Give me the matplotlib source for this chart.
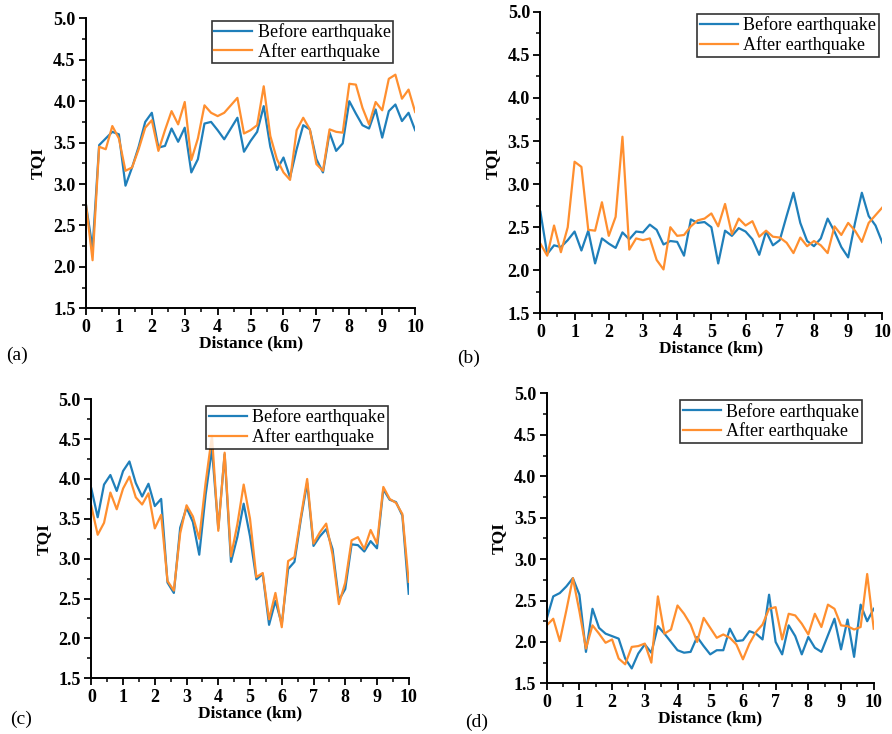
import numpy as np
import matplotlib.pyplot as plt
from matplotlib.ticker import MultipleLocator

# ----------------------------
# data: TQI every 0.2 km along a 10 km section
# ----------------------------
distance = np.round(np.arange(0, 10.01, 0.2), 1)

before_a = [2.75, 2.22, 3.47, 3.55, 3.63, 3.60, 2.98, 3.20, 3.45, 3.75, 3.86,
            3.44, 3.46, 3.67, 3.51, 3.68, 3.14, 3.30, 3.73, 3.75, 3.65,
            3.54, 3.67, 3.80, 3.39, 3.52, 3.63, 3.94, 3.45, 3.17, 3.32,
            3.08, 3.42, 3.71, 3.66, 3.30, 3.14, 3.62, 3.40, 3.49, 4.00,
            3.85, 3.71, 3.67, 3.90, 3.56, 3.88, 3.96, 3.76, 3.86, 3.65]
after_a = [2.75, 2.08, 3.45, 3.42, 3.70, 3.55, 3.16, 3.20, 3.42, 3.68, 3.77,
           3.40, 3.65, 3.88, 3.72, 3.99, 3.29, 3.55, 3.95, 3.86, 3.82,
           3.86, 3.95, 4.04, 3.61, 3.65, 3.71, 4.18, 3.58, 3.30, 3.14,
           3.05, 3.65, 3.80, 3.66, 3.24, 3.16, 3.66, 3.63, 3.62, 4.21,
           4.20, 3.92, 3.72, 3.99, 3.89, 4.27, 4.32, 4.03, 4.14, 3.87]

before_b = [2.68, 2.19, 2.29, 2.27, 2.35, 2.45, 2.23, 2.46, 2.08, 2.37, 2.31,
            2.26, 2.44, 2.36, 2.45, 2.44, 2.53, 2.47, 2.30, 2.34, 2.33,
            2.17, 2.59, 2.55, 2.56, 2.50, 2.08, 2.46, 2.40, 2.49, 2.45,
            2.36, 2.18, 2.45, 2.29, 2.35, 2.63, 2.90, 2.55, 2.34, 2.28,
            2.37, 2.60, 2.45, 2.27, 2.15, 2.55, 2.90, 2.63, 2.52, 2.32]
after_b = [2.31, 2.17, 2.52, 2.21, 2.50, 3.26, 3.20, 2.47, 2.46, 2.79, 2.40,
           2.62, 3.55, 2.24, 2.37, 2.35, 2.37, 2.12, 2.01, 2.50, 2.40,
           2.41, 2.51, 2.58, 2.60, 2.66, 2.51, 2.77, 2.42, 2.60, 2.52,
           2.57, 2.39, 2.46, 2.39, 2.38, 2.32, 2.20, 2.38, 2.28, 2.34,
           2.29, 2.20, 2.51, 2.41, 2.55, 2.46, 2.33, 2.55, 2.64, 2.73]

before_c = [3.88, 3.52, 3.93, 4.05, 3.85, 4.10, 4.22, 3.95, 3.78, 3.94, 3.66,
            3.75, 2.70, 2.57, 3.39, 3.64, 3.46, 3.05, 3.80, 4.38, 3.38,
            4.31, 2.96, 3.27, 3.69, 3.28, 2.74, 2.81, 2.17, 2.47, 2.18,
            2.87, 2.96, 3.49, 3.95, 3.16, 3.28, 3.37, 3.12, 2.48, 2.62,
            3.18, 3.17, 3.09, 3.22, 3.13, 3.87, 3.74, 3.71, 3.54, 2.56]
after_c = [3.66, 3.30, 3.45, 3.83, 3.62, 3.88, 4.03, 3.77, 3.68, 3.82, 3.38,
           3.55, 2.72, 2.60, 3.32, 3.67, 3.53, 3.25, 3.95, 4.54, 3.35,
           4.33, 3.03, 3.43, 3.93, 3.50, 2.77, 2.82, 2.24, 2.57, 2.14,
           2.97, 3.02, 3.52, 4.00, 3.19, 3.33, 3.44, 3.05, 2.43, 2.70,
           3.23, 3.27, 3.12, 3.36, 3.19, 3.90, 3.75, 3.70, 3.56, 2.71]

before_d = [2.28, 2.55, 2.59, 2.67, 2.77, 2.57, 1.88, 2.40, 2.17, 2.10, 2.07,
            2.04, 1.80, 1.68, 1.86, 1.97, 1.87, 2.19, 2.10, 2.00, 1.90,
            1.87, 1.88, 2.06, 1.95, 1.85, 1.90, 1.90, 2.16, 2.01, 2.02,
            2.13, 2.10, 2.03, 2.57, 2.00, 1.85, 2.20, 2.07, 1.85, 2.06,
            1.93, 1.88, 2.08, 2.28, 1.91, 2.27, 1.82, 2.45, 2.25, 2.40]
after_d = [2.20, 2.28, 2.01, 2.38, 2.77, 2.37, 1.92, 2.20, 2.10, 1.99, 2.03,
           1.80, 1.73, 1.94, 1.95, 1.98, 1.75, 2.55, 2.10, 2.15, 2.44,
           2.34, 2.21, 2.00, 2.29, 2.17, 2.05, 2.09, 2.05, 1.97, 1.79,
           1.98, 2.12, 2.21, 2.40, 2.42, 2.03, 2.34, 2.32, 2.22, 2.09,
           2.34, 2.18, 2.45, 2.40, 2.20, 2.19, 2.15, 2.18, 2.82, 2.16]

panel_labels = ["(a)", "(b)", "(c)", "(d)"]
series = [(before_a, after_a), (before_b, after_b),
          (before_c, after_c), (before_d, after_d)]

# ----------------------------
# layout (figure fractions) and label spots
# ----------------------------
axes_rects = [
    [0.0964, 0.580, 0.369, 0.395],
    [0.6058, 0.573, 0.3834, 0.411],
    [0.1024, 0.076, 0.3558, 0.380],
    [0.6129, 0.069, 0.3666, 0.395],
]
label_pos = [(0.007, 0.510), (0.513, 0.506), (0.011, 0.014), (0.521, 0.010)]
legend_anchor = [(0.945, 1.005), (1.0, 1.005), (0.945, 0.99), (0.975, 0.99)]

plt.rcParams["font.family"] = ["Liberation Serif", "DejaVu Serif"]

blue = "#1f7fba"
orange = "#ff8f2f"

fig = plt.figure(figsize=(8.92, 7.34), dpi=100)

for rect, (before, after), lab, lp, anc in zip(axes_rects, series, panel_labels,
                                               label_pos, legend_anchor):
    ax = fig.add_axes(rect)
    ax.plot(distance, before, color=blue, lw=1.6, label="Before earthquake")
    ax.plot(distance, after, color=orange, lw=1.6, label="After earthquake")

    ax.set_xlim(0, 10)
    ax.set_ylim(1.5, 5.0)
    ax.xaxis.set_major_locator(MultipleLocator(1))
    ax.xaxis.set_minor_locator(MultipleLocator(0.5))
    ax.yaxis.set_major_locator(MultipleLocator(0.5))
    ax.yaxis.set_minor_locator(MultipleLocator(0.25))
    ax.yaxis.set_major_formatter(lambda v, p: f"{v:.1f}")

    for side in ["top", "right"]:
        ax.spines[side].set_visible(False)
    for side in ["left", "bottom"]:
        ax.spines[side].set_linewidth(1.4)
    ax.tick_params(which="major", direction="out", length=5, width=1.3,
                   labelsize=13, pad=2.5)
    ax.tick_params(which="minor", direction="out", length=3, width=1.1)
    for t in ax.get_xticklabels() + ax.get_yticklabels():
        t.set_fontweight("bold")

    ax.set_xlabel("Distance (km)", fontsize=12.5, fontweight="bold", labelpad=0)
    ax.set_ylabel("TQI", fontsize=12.5, fontweight="bold", labelpad=5)

    leg = ax.legend(loc="upper right", bbox_to_anchor=anc, fontsize=13,
                    frameon=True, fancybox=False, edgecolor="black",
                    handlelength=2.1, handletextpad=0.3, borderpad=0.15,
                    labelspacing=0.1, borderaxespad=0.2)
    leg.get_frame().set_linewidth(1.2)

    fig.text(lp[0], lp[1], lab, fontsize=14)

fig.savefig("out.png", dpi=100)
